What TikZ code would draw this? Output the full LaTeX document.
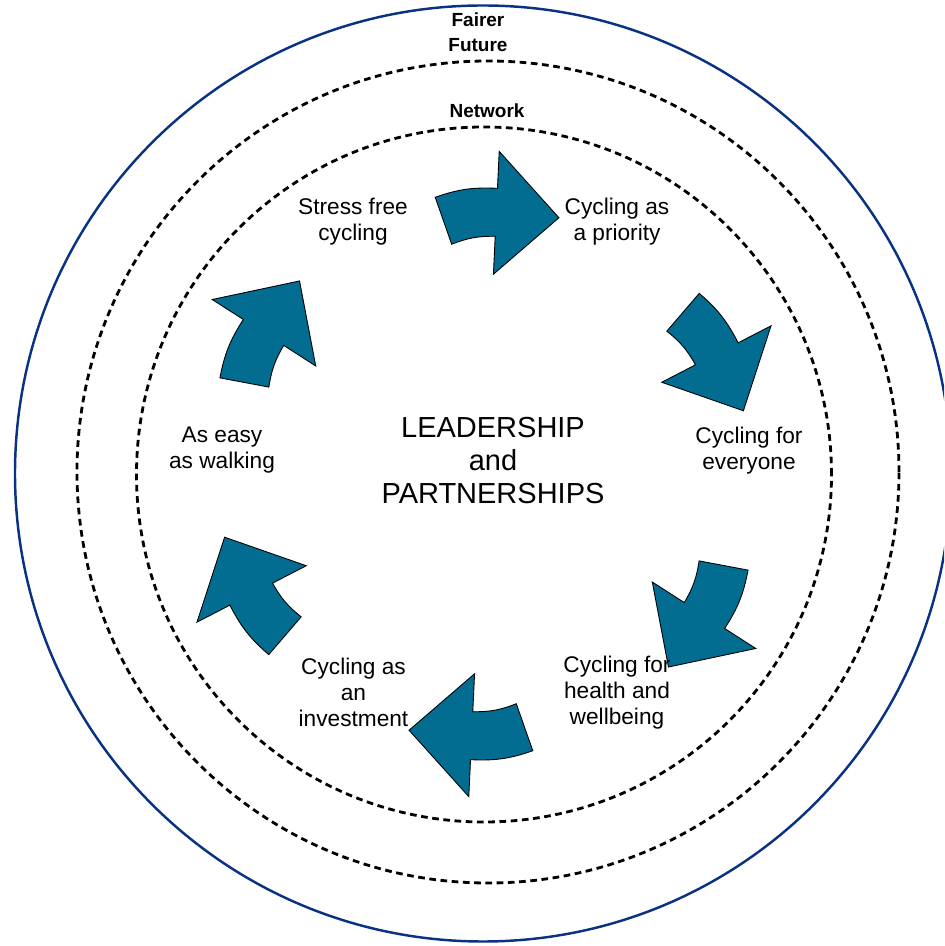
\documentclass[tikz,border=0pt]{standalone}
\usepackage{fontspec}
\setmainfont{Liberation Sans}
\definecolor{arrowColor}{RGB}{2,108,145}
\definecolor{ringColor}{RGB}{10,50,130}
\tikzset{
  ring/.style={draw=black, line width=1.6pt, dash pattern=on 3.8pt off 2.6pt},
  bendArrow/.style={fill=arrowColor, draw=black, line width=0.5pt, line join=miter},
  stageText/.style={align=center, font=\fontsize{12.9}{14.8}\selectfont},
  ringText/.style={align=center, font=\bfseries\fontsize{10.8}{14.2}\selectfont},
}

\begin{document}
\begin{tikzpicture}
    \useasboundingbox (-9.68,-9.44) rectangle (9.2,9.48);
    \clip (-9.68,-9.44) rectangle (9.2,9.48);

    % rings
    \draw[ringColor, line width=1.4pt] (-0.02,0.01) circle (9.36);
    \draw[ring] (0.08,0.04) circle (8.22);
    \draw[ring] (0,-0.01) circle (6.95);

    \node[ringText] (fairer) at (-0.12,8.84) {Fairer\\Future};
    \node[ringText] (network) at (0.06,7.26) {Network};

    % curved arrows, one every 60 degrees
    \foreach \a in {0,-60,...,-300}
        \draw[bendArrow] (100+\a:5.62) to[bend left=11] (87.3+\a:5.72) -- (87.3+\a:6.46)
            -- (73.7+\a:5.34) -- (87.3+\a:4.0) -- (87.3+\a:4.76) to[bend right=11] (98+\a:4.64) -- cycle;

    \node[stageText] (stress) at (-2.62,5.05) {Stress free\\cycling};
    \node[stageText] (priority) at (2.66,5.04) {Cycling as\\a priority};
    \node[stageText] (everyone) at (5.3,0.47) {Cycling for\\everyone};
    \node[stageText] (health) at (2.66,-4.37) {Cycling for\\health and\\wellbeing};
    \node[stageText] (invest) at (-2.61,-4.37) {Cycling as\\an\\investment};
    \node[stageText] (walking) at (-5.24,0.47) {As easy\\as walking};

    \node[align=center, font=\fontsize{16.5}{19}\selectfont] (lead) at (0.18,0.27) {LEADERSHIP\\and\\PARTNERSHIPS};
\end{tikzpicture}
\end{document}
